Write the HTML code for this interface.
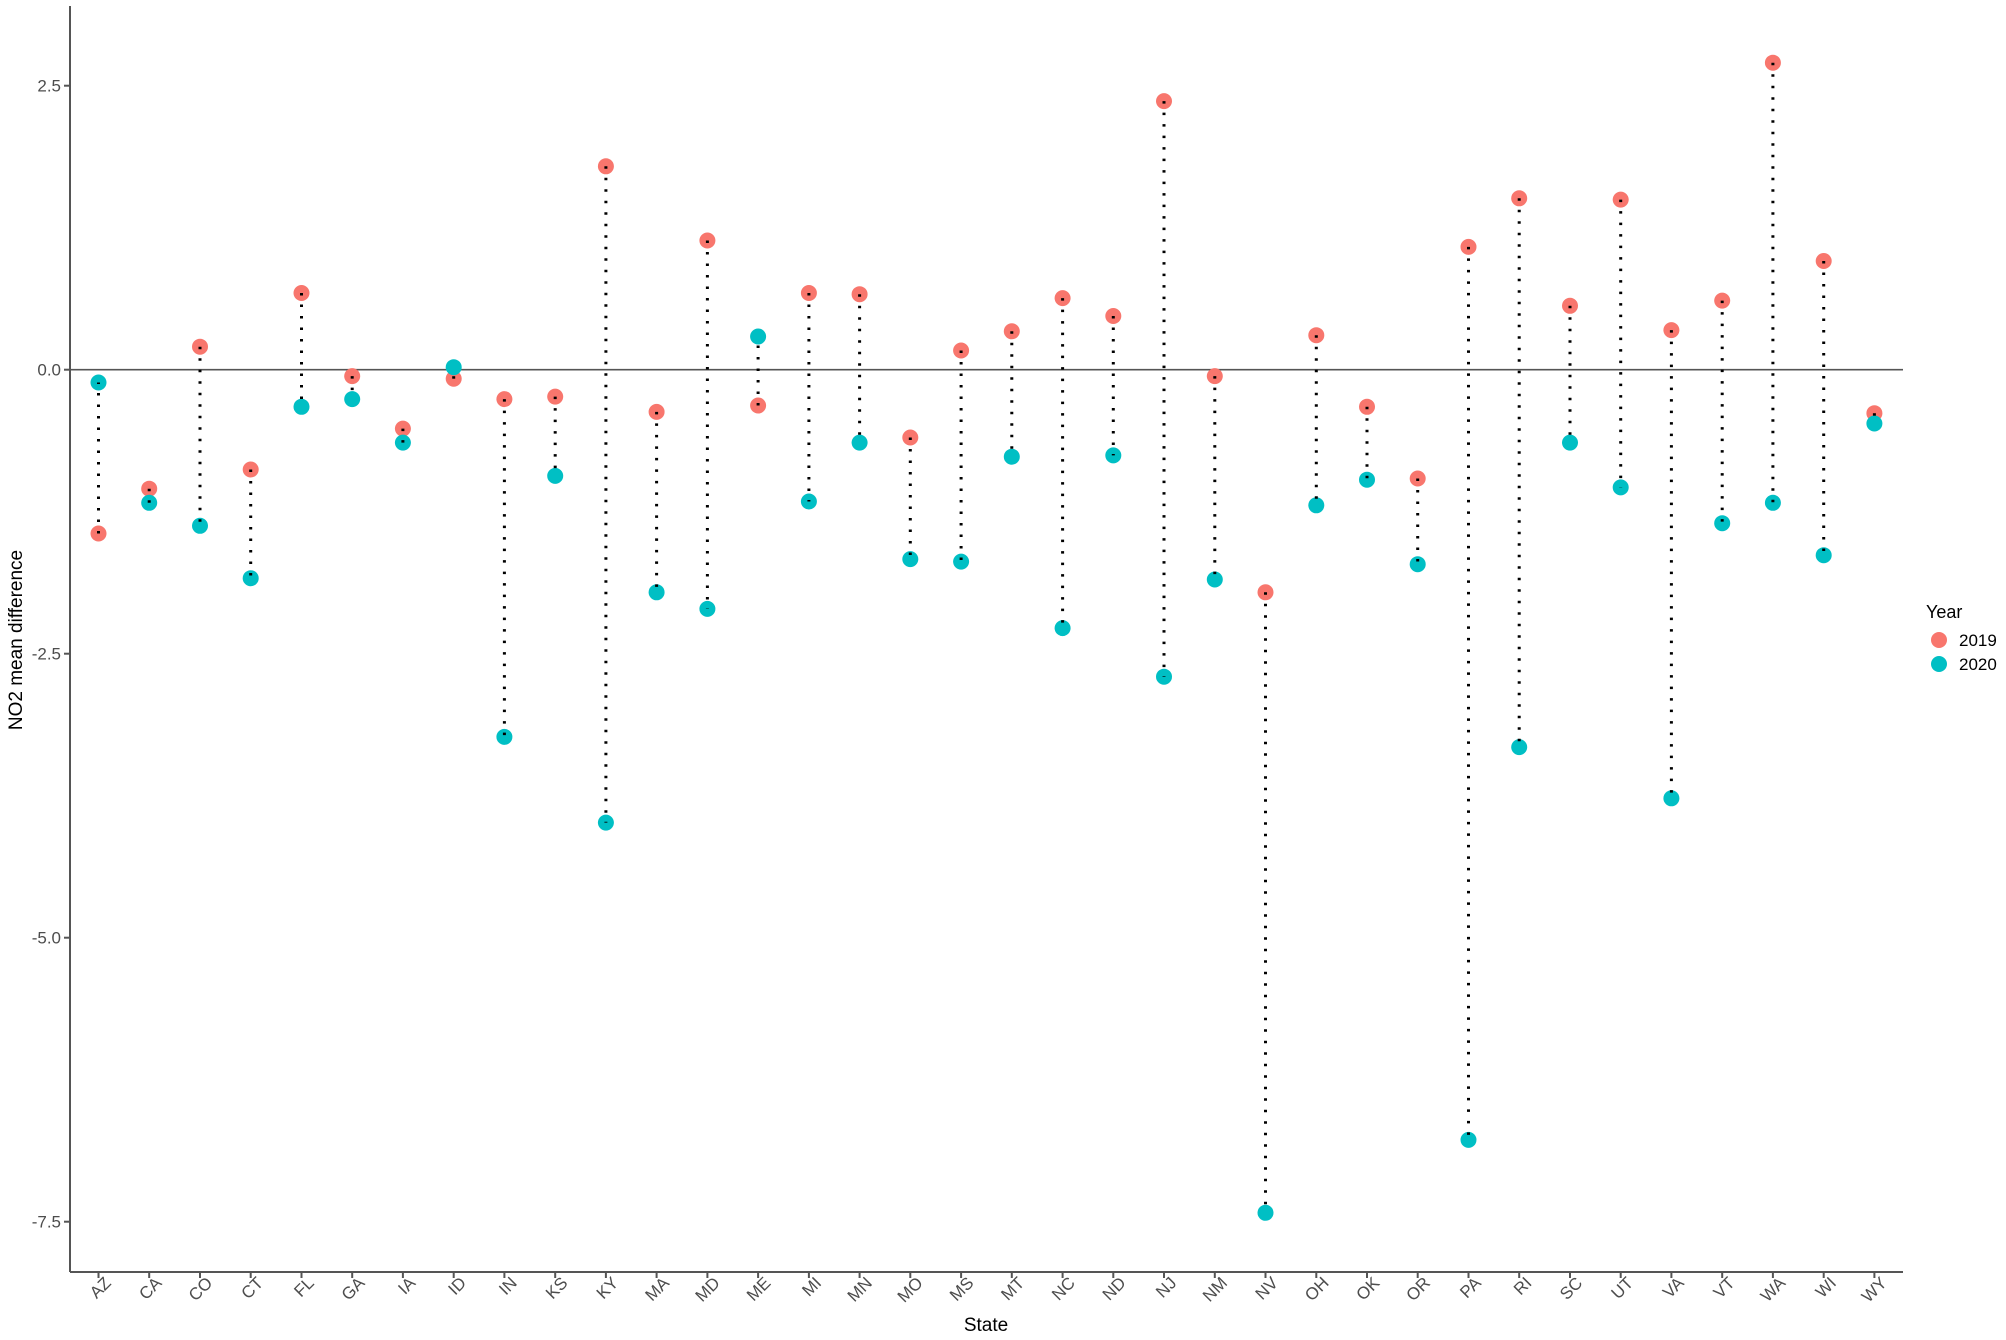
<!DOCTYPE html>
<html><head><meta charset="utf-8"><style>body{margin:0;background:#fff}svg{display:block}text{font-family:"Liberation Sans",sans-serif}</style></head><body>
<svg width="2006" height="1340" xmlns="http://www.w3.org/2000/svg">
<g stroke="#555" stroke-width="2" fill="none">
<line x1="70" y1="6" x2="70" y2="1272"/>
<line x1="70" y1="1272" x2="1903" y2="1272"/>
<line x1="70" y1="369.7" x2="1903" y2="369.7" stroke-width="1.6"/>
<line x1="64" y1="85.7" x2="70" y2="85.7"/><line x1="64" y1="369.7" x2="70" y2="369.7"/><line x1="64" y1="653.7" x2="70" y2="653.7"/><line x1="64" y1="937.7" x2="70" y2="937.7"/><line x1="64" y1="1221.7" x2="70" y2="1221.7"/>
</g>
<g fill="#4d4d4d" font-size="17" text-anchor="end">
<text x="61" y="91.5">2.5</text><text x="61" y="375.5">0.0</text><text x="61" y="659.5">-2.5</text><text x="61" y="943.5">-5.0</text><text x="61" y="1227.5">-7.5</text>
</g>
<g font-size="17" fill="#000">
<text x="986" y="1331" text-anchor="middle" font-size="19">State</text>
<text transform="translate(22,640) rotate(-90)" text-anchor="middle" font-size="19">NO2 mean difference</text>
<text x="1926" y="618" font-size="18">Year</text>
<circle cx="1939" cy="640" r="8" fill="#F8766D"/><circle cx="1939" cy="664" r="8" fill="#00BFC4"/>
<text x="1959" y="646" font-size="17">2019</text><text x="1959" y="670" font-size="17">2020</text>
</g>
<g id="pts19" fill="#F8766D">
<circle cx="98.5" cy="533.5" r="8"/><circle cx="149.2" cy="488.7" r="8"/><circle cx="200" cy="346.7" r="8"/><circle cx="250.7" cy="469.5" r="8"/><circle cx="301.5" cy="293" r="8"/><circle cx="352.2" cy="376.1" r="8"/><circle cx="402.9" cy="428.6" r="8"/><circle cx="453.7" cy="378.7" r="8"/><circle cx="504.4" cy="399.1" r="8"/><circle cx="555.2" cy="396.6" r="8"/><circle cx="605.9" cy="166.3" r="8"/><circle cx="656.6" cy="411.9" r="8"/><circle cx="707.4" cy="240.5" r="8"/><circle cx="758.1" cy="405.5" r="8"/><circle cx="808.9" cy="293" r="8"/><circle cx="859.6" cy="294.2" r="8"/><circle cx="910.3" cy="437.5" r="8"/><circle cx="961.1" cy="350.5" r="8"/><circle cx="1011.8" cy="331.3" r="8"/><circle cx="1062.6" cy="298.1" r="8"/><circle cx="1113.3" cy="316" r="8"/><circle cx="1164" cy="101.1" r="8"/><circle cx="1214.8" cy="376.1" r="8"/><circle cx="1265.5" cy="592.3" r="8"/><circle cx="1316.3" cy="335.2" r="8"/><circle cx="1367" cy="406.8" r="8"/><circle cx="1417.7" cy="478.5" r="8"/><circle cx="1468.5" cy="246.9" r="8"/><circle cx="1519.2" cy="198.3" r="8"/><circle cx="1570" cy="305.8" r="8"/><circle cx="1620.7" cy="199.6" r="8"/><circle cx="1671.4" cy="330.1" r="8"/><circle cx="1722.2" cy="300.6" r="8"/><circle cx="1772.9" cy="62.7" r="8"/><circle cx="1823.7" cy="261" r="8"/><circle cx="1874.4" cy="413.2" r="8"/>
</g>
<g fill="#00BFC4">
<circle cx="98.5" cy="382.5" r="8"/><circle cx="149.2" cy="502.8" r="8"/><circle cx="200" cy="525.8" r="8"/><circle cx="250.7" cy="578.2" r="8"/><circle cx="301.5" cy="406.8" r="8"/><circle cx="352.2" cy="399.1" r="8"/><circle cx="402.9" cy="442.6" r="8"/><circle cx="453.7" cy="367.2" r="8"/><circle cx="504.4" cy="736.9" r="8"/><circle cx="555.2" cy="475.9" r="8"/><circle cx="605.9" cy="822.6" r="8"/><circle cx="656.6" cy="592.3" r="8"/><circle cx="707.4" cy="608.9" r="8"/><circle cx="758.1" cy="336.5" r="8"/><circle cx="808.9" cy="501.5" r="8"/><circle cx="859.6" cy="442.6" r="8"/><circle cx="910.3" cy="559.1" r="8"/><circle cx="961.1" cy="561.6" r="8"/><circle cx="1011.8" cy="456.7" r="8"/><circle cx="1062.6" cy="628.1" r="8"/><circle cx="1113.3" cy="455.4" r="8"/><circle cx="1164" cy="676.7" r="8"/><circle cx="1214.8" cy="579.5" r="8"/><circle cx="1265.5" cy="1212.8" r="8"/><circle cx="1316.3" cy="505.3" r="8"/><circle cx="1367" cy="479.7" r="8"/><circle cx="1417.7" cy="564.2" r="8"/><circle cx="1468.5" cy="1139.9" r="8"/><circle cx="1519.2" cy="747.1" r="8"/><circle cx="1570" cy="442.6" r="8"/><circle cx="1620.7" cy="487.4" r="8"/><circle cx="1671.4" cy="798.3" r="8"/><circle cx="1722.2" cy="523.2" r="8"/><circle cx="1772.9" cy="502.8" r="8"/><circle cx="1823.7" cy="555.2" r="8"/><circle cx="1874.4" cy="423.5" r="8"/>
</g>
<g stroke="#000" stroke-width="3" stroke-dasharray="2.5 9">
<line x1="98.5" y1="533.5" x2="98.5" y2="382.5"/><line x1="149.2" y1="488.7" x2="149.2" y2="502.8"/><line x1="200" y1="346.7" x2="200" y2="525.8"/><line x1="250.7" y1="469.5" x2="250.7" y2="578.2"/><line x1="301.5" y1="293" x2="301.5" y2="406.8"/><line x1="352.2" y1="376.1" x2="352.2" y2="399.1"/><line x1="402.9" y1="428.6" x2="402.9" y2="442.6"/><line x1="453.7" y1="378.7" x2="453.7" y2="367.2"/><line x1="504.4" y1="399.1" x2="504.4" y2="736.9"/><line x1="555.2" y1="396.6" x2="555.2" y2="475.9"/><line x1="605.9" y1="166.3" x2="605.9" y2="822.6"/><line x1="656.6" y1="411.9" x2="656.6" y2="592.3"/><line x1="707.4" y1="240.5" x2="707.4" y2="608.9"/><line x1="758.1" y1="405.5" x2="758.1" y2="336.5"/><line x1="808.9" y1="293" x2="808.9" y2="501.5"/><line x1="859.6" y1="294.2" x2="859.6" y2="442.6"/><line x1="910.3" y1="437.5" x2="910.3" y2="559.1"/><line x1="961.1" y1="350.5" x2="961.1" y2="561.6"/><line x1="1011.8" y1="331.3" x2="1011.8" y2="456.7"/><line x1="1062.6" y1="298.1" x2="1062.6" y2="628.1"/><line x1="1113.3" y1="316" x2="1113.3" y2="455.4"/><line x1="1164" y1="101.1" x2="1164" y2="676.7"/><line x1="1214.8" y1="376.1" x2="1214.8" y2="579.5"/><line x1="1265.5" y1="592.3" x2="1265.5" y2="1212.8"/><line x1="1316.3" y1="335.2" x2="1316.3" y2="505.3"/><line x1="1367" y1="406.8" x2="1367" y2="479.7"/><line x1="1417.7" y1="478.5" x2="1417.7" y2="564.2"/><line x1="1468.5" y1="246.9" x2="1468.5" y2="1139.9"/><line x1="1519.2" y1="198.3" x2="1519.2" y2="747.1"/><line x1="1570" y1="305.8" x2="1570" y2="442.6"/><line x1="1620.7" y1="199.6" x2="1620.7" y2="487.4"/><line x1="1671.4" y1="330.1" x2="1671.4" y2="798.3"/><line x1="1722.2" y1="300.6" x2="1722.2" y2="523.2"/><line x1="1772.9" y1="62.7" x2="1772.9" y2="502.8"/><line x1="1823.7" y1="261" x2="1823.7" y2="555.2"/><line x1="1874.4" y1="413.2" x2="1874.4" y2="423.5"/>
</g>
<g fill="#4d4d4d" font-size="17" text-anchor="end">
<text transform="translate(112,1284) rotate(-45)">AZ</text><text transform="translate(162.7,1284) rotate(-45)">CA</text><text transform="translate(213.5,1284) rotate(-45)">CO</text><text transform="translate(264.2,1284) rotate(-45)">CT</text><text transform="translate(315,1284) rotate(-45)">FL</text><text transform="translate(365.7,1284) rotate(-45)">GA</text><text transform="translate(416.4,1284) rotate(-45)">IA</text><text transform="translate(467.2,1284) rotate(-45)">ID</text><text transform="translate(517.9,1284) rotate(-45)">IN</text><text transform="translate(568.7,1284) rotate(-45)">KS</text><text transform="translate(619.4,1284) rotate(-45)">KY</text><text transform="translate(670.1,1284) rotate(-45)">MA</text><text transform="translate(720.9,1284) rotate(-45)">MD</text><text transform="translate(771.6,1284) rotate(-45)">ME</text><text transform="translate(822.4,1284) rotate(-45)">MI</text><text transform="translate(873.1,1284) rotate(-45)">MN</text><text transform="translate(923.8,1284) rotate(-45)">MO</text><text transform="translate(974.6,1284) rotate(-45)">MS</text><text transform="translate(1025.3,1284) rotate(-45)">MT</text><text transform="translate(1076.1,1284) rotate(-45)">NC</text><text transform="translate(1126.8,1284) rotate(-45)">ND</text><text transform="translate(1177.5,1284) rotate(-45)">NJ</text><text transform="translate(1228.3,1284) rotate(-45)">NM</text><text transform="translate(1279,1284) rotate(-45)">NV</text><text transform="translate(1329.8,1284) rotate(-45)">OH</text><text transform="translate(1380.5,1284) rotate(-45)">OK</text><text transform="translate(1431.2,1284) rotate(-45)">OR</text><text transform="translate(1482,1284) rotate(-45)">PA</text><text transform="translate(1532.7,1284) rotate(-45)">RI</text><text transform="translate(1583.5,1284) rotate(-45)">SC</text><text transform="translate(1634.2,1284) rotate(-45)">UT</text><text transform="translate(1684.9,1284) rotate(-45)">VA</text><text transform="translate(1735.7,1284) rotate(-45)">VT</text><text transform="translate(1786.4,1284) rotate(-45)">WA</text><text transform="translate(1837.2,1284) rotate(-45)">WI</text><text transform="translate(1887.9,1284) rotate(-45)">WY</text>
</g>
<g stroke="#555" stroke-width="2">
<path d="M98.5 1272v6M149.2 1272v6M200 1272v6M250.7 1272v6M301.5 1272v6M352.2 1272v6M402.9 1272v6M453.7 1272v6M504.4 1272v6M555.2 1272v6M605.9 1272v6M656.6 1272v6M707.4 1272v6M758.1 1272v6M808.9 1272v6M859.6 1272v6M910.3 1272v6M961.1 1272v6M1011.8 1272v6M1062.6 1272v6M1113.3 1272v6M1164 1272v6M1214.8 1272v6M1265.5 1272v6M1316.3 1272v6M1367 1272v6M1417.7 1272v6M1468.5 1272v6M1519.2 1272v6M1570 1272v6M1620.7 1272v6M1671.4 1272v6M1722.2 1272v6M1772.9 1272v6M1823.7 1272v6M1874.4 1272v6"/>
</g>
</svg>
</body></html>
